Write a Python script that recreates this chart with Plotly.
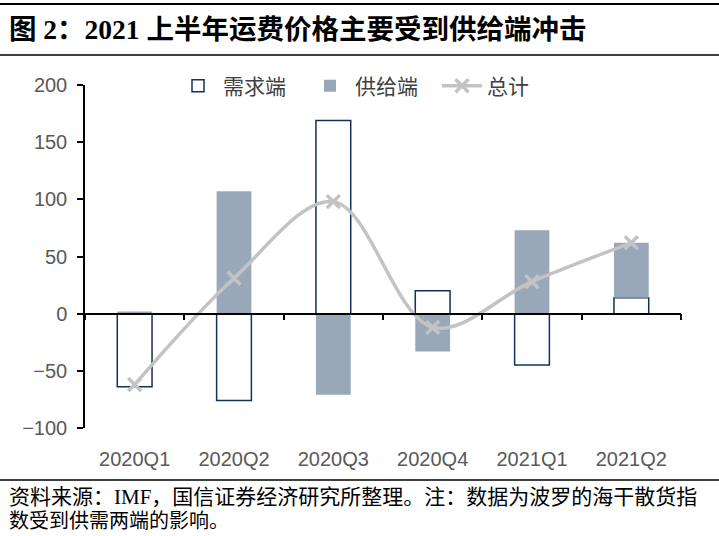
import plotly.graph_objects as go

categories = ["2020Q1", "2020Q2", "2020Q3", "2020Q4", "2021Q1", "2021Q2"]
demand = [-64, -76, 169, 20, -45, 14]
supply = [2, 107, -71, -33, 73, 48]
total = [-62, 31, 98, -12, 28, 62]
y_ticks = [-100, -50, 0, 50, 100, 150, 200]

W, H = 719, 536
L, R, T, B = 85, 38, 85, 108
PW, PH = W - L - R, H - T - B


def px(x):
    return (x - L) / PW


def py(y):
    return (H - B - y) / PH


CJK = "Noto Sans CJK SC"
SERIF = "Liberation Serif, Noto Sans CJK SC"
SANS = "Liberation Sans, Arial, sans-serif"
GREY_LINE = "#C3C3C3"

fig = go.Figure()
fig.add_trace(go.Bar(
    x=categories, y=demand, name="需求端", width=0.35,
    marker=dict(color="white", line=dict(color="#13305A", width=1.5)),
))
fig.add_trace(go.Bar(
    x=categories, y=supply, name="供给端", width=0.35,
    marker=dict(color="#98A8B9", line=dict(width=0)),
))
fig.add_trace(go.Scatter(
    x=categories, y=total, name="总计", mode="lines+markers", xaxis="x2",
    line=dict(color=GREY_LINE, width=3.5, shape="spline", smoothing=1.0),
    marker=dict(symbol="x-thin", size=13, line=dict(color=GREY_LINE, width=3.5)),
))

fig.update_layout(
    width=W, height=H,
    margin=dict(l=L, r=R, t=T, b=B, autoexpand=False),
    plot_bgcolor="white", paper_bgcolor="white",
    barmode="relative",
    showlegend=True,
    legend=dict(
        orientation="h", x=px(173), y=py(86), xanchor="left", yanchor="middle",
        font=dict(family=CJK, size=21, color="#404040"),
        bgcolor="rgba(0,0,0,0)", itemwidth=40, tracegroupgap=0,
        entrywidth=77, entrywidthmode="pixels",
    ),
    xaxis=dict(
        type="category", categoryorder="array", categoryarray=categories,
        range=[-0.5, 5.5], anchor="free", position=1 / 3, side="bottom",
        tickson="boundaries", ticks="outside", ticklen=6, tickcolor="black", tickwidth=1.5,
        showticklabels=False, showline=True, linecolor="black", linewidth=1.5,
        showgrid=False, zeroline=False,
    ),
    xaxis2=dict(
        type="category", categoryorder="array", categoryarray=categories,
        range=[-0.5, 5.5], overlaying="x", anchor="y", side="bottom",
        showline=False, showgrid=False, zeroline=False,
        ticks="outside", ticklen=13, tickcolor="rgba(0,0,0,0)",
        tickfont=dict(family=SANS, size=20, color="#595959"),
    ),
    yaxis=dict(
        range=[-100, 200], tickvals=y_ticks,
        ticktext=[("−" + str(-v)) if v < 0 else str(v) for v in y_ticks],
        showline=True, linecolor="black", linewidth=1.5,
        ticks="outside", ticklen=6, tickcolor="black", tickwidth=1.5,
        ticklabelstandoff=6,
        showgrid=False, zeroline=False,
        tickfont=dict(family=SANS, size=20, color="#595959"),
    ),
    shapes=[
        dict(type="line", xref="paper", yref="paper", x0=px(0), x1=px(719), y0=py(4), y1=py(4),
             line=dict(color="black", width=2)),
        dict(type="line", xref="paper", yref="paper", x0=px(0), x1=px(719), y0=py(55), y1=py(55),
             line=dict(color="black", width=1.5)),
        dict(type="line", xref="paper", yref="paper", x0=px(0), x1=px(719), y0=py(480), y1=py(480),
             line=dict(color="black", width=1.5)),
    ],
    annotations=[
        dict(text="<b>图 2：2021 上半年运费价格主要受到供给端冲击</b>", xref="paper", yref="paper",
             x=px(7), y=py(30), xanchor="left", yanchor="middle", showarrow=False,
             font=dict(family=SERIF, size=27.5, color="black")),
        dict(text="资料来源：IMF，国信证券经济研究所整理。注：数据为波罗的海干散货指", xref="paper", yref="paper",
             x=px(7), y=py(497), xanchor="left", yanchor="middle", showarrow=False,
             font=dict(family=SERIF, size=21, color="black")),
        dict(text="数受到供需两端的影响。", xref="paper", yref="paper",
             x=px(7), y=py(521), xanchor="left", yanchor="middle", showarrow=False,
             font=dict(family=SERIF, size=20, color="black")),
    ],
)

fig.write_html(
    "out.html",
    config={"displayModeBar": False},
    post_script="document.body.style.margin='0px';document.body.style.padding='0px';",
)
